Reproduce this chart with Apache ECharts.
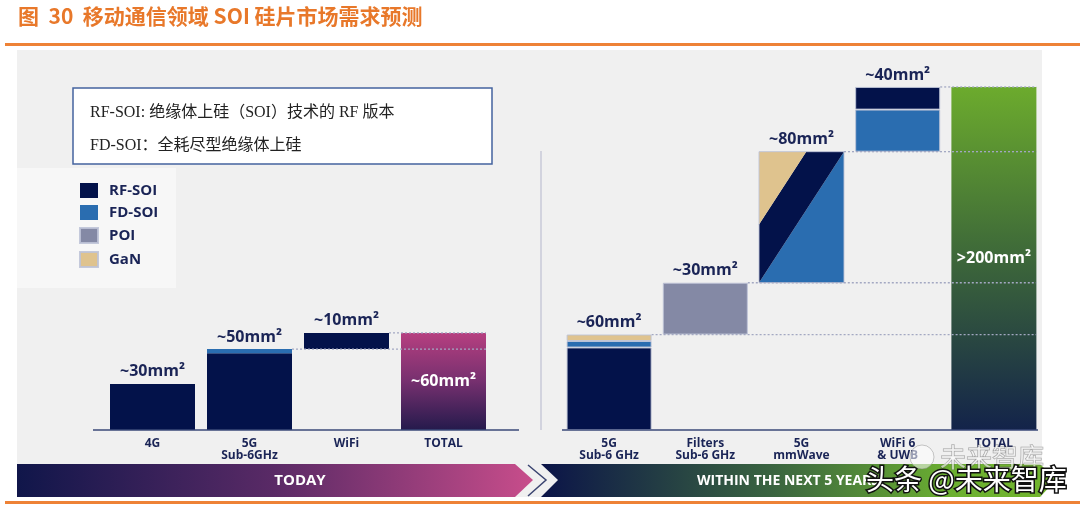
<!DOCTYPE html>
<html>
<head>
<meta charset="utf-8">
<script src="https://cdn.jsdelivr.net/npm/echarts@6/dist/echarts.min.js"></script>
<style>
html,body{margin:0;padding:0;background:#fff;}
#chart{width:1080px;height:506px;}
</style>
</head>
<body>
<div id="chart"></div>
<script>
// ---------- DATA ----------
const legendNames = ['RF-SOI', 'FD-SOI', 'POI', 'GaN'];

// TODAY panel (waterfall)
const leftCats = ['4G', '5G\nSub-6GHz', 'WiFi', 'TOTAL'];
const leftBase = [0, 0, 50, 0];
const leftRF = [28.5, 47.5, 10, '-'];
const leftFD = ['-', 2.5, '-', '-'];
const leftTotal = ['-', '-', '-', 60];
const leftLabels = ['~30mm²', '~50mm²', '~10mm²', '~60mm²'];
const leftConnectors = [[1, 3, 50], [2, 3, 60]];

// WITHIN THE NEXT 5 YEARS panel (waterfall)
const rightCats = ['5G\nSub-6 GHz', 'Filters\nSub-6 GHz', '5G\nmmWave', 'WiFi 6\n& UWB', 'TOTAL'];
const rightBase = [0, 59, 91, 172, 0];
const rightRFLow = [51, '-', '-', '-', '-'];
const rightFD = [4, '-', '-', 26, '-'];
const rightGaN = [4, '-', '-', '-', '-'];
const rightPOI = ['-', 32, '-', '-', '-'];
const rightRFHigh = ['-', '-', '-', 14, '-'];
const rightTotal = ['-', '-', '-', '-', 212];
// mmWave bar: shares drawn as diagonal bands [GaN, RF-SOI, FD-SOI]
const mmWaveIndex = 2;
const mmWaveShares = [12.5, 28, 40.5];
const rightLabels = ['~60mm²', '~30mm²', '~80mm²', '~40mm²', '>200mm²'];
const rightConnectors = [[0, 4, 59], [1, 4, 91], [2, 4, 172], [3, 4, 212]];

// ---------- STYLE ----------
const C = { RF: '#03124a', FD: '#2a6db0', POI: '#8489a5', GaN: '#dfc38e' };
const NAVY = '#1a2456';
const BAR_W = 85;
const FONT = '"Open Sans", "Noto Sans", sans-serif';
const CJK = '"Noto Sans CJK SC", sans-serif';

const chart = echarts.init(document.getElementById('chart'));

function sumStack(arrs, i) {
  let s = 0;
  arrs.forEach(a => { const v = a[i]; if (v !== '-' && v != null) s += v; });
  return s;
}
const leftTops = leftCats.map((c, i) => sumStack([leftBase, leftRF, leftFD, leftTotal], i));
const rightTops = rightCats.map((c, i) => {
  let s = sumStack([rightBase, rightRFLow, rightFD, rightGaN, rightPOI, rightRFHigh, rightTotal], i);
  if (i === mmWaveIndex) s += mmWaveShares[0] + mmWaveShares[1] + mmWaveShares[2];
  return s;
});

function stackBar(name, data, color, axisIdx, border) {
  return {
    type: 'bar', name: name, stack: 's' + axisIdx, data: data,
    xAxisIndex: axisIdx, yAxisIndex: axisIdx, barWidth: BAR_W,
    itemStyle: { color: color, borderColor: border ? 'rgba(190,195,215,0.9)' : color, borderWidth: border ? 1 : 0 },
    emphasis: { disabled: true }, z: 3
  };
}
function baseBar(data, axisIdx) {
  return {
    type: 'bar', name: 'base', stack: 's' + axisIdx, data: data,
    xAxisIndex: axisIdx, yAxisIndex: axisIdx, barWidth: BAR_W,
    itemStyle: { color: 'rgba(0,0,0,0)' }, emphasis: { disabled: true }, silent: true
  };
}
function labelSeries(tops, labels, axisIdx, skipIdx) {
  return {
    type: 'custom', xAxisIndex: axisIdx, yAxisIndex: axisIdx, silent: true, z: 6,
    data: tops.map((t, i) => [i, t, i]).filter(d => d[0] !== skipIdx),
    renderItem: function (params, api) {
      const p = api.coord([api.value(0), api.value(1)]);
      return {
        type: 'text', x: p[0], y: p[1] - 4,
        style: { text: labels[api.value(2)], fill: NAVY, font: 'bold 16px ' + FONT, textAlign: 'center', textVerticalAlign: 'bottom' }
      };
    }
  };
}
function connectorSeries(conns, axisIdx) {
  return {
    type: 'custom', xAxisIndex: axisIdx, yAxisIndex: axisIdx, silent: true, z: 5,
    data: conns,
    renderItem: function (params, api) {
      const a = api.coord([api.value(0), api.value(2)]);
      const b = api.coord([api.value(1), api.value(2)]);
      return {
        type: 'line',
        shape: { x1: a[0] + BAR_W / 2, y1: a[1], x2: b[0] + BAR_W / 2, y2: b[1] },
        style: { stroke: '#a3a8c2', lineWidth: 1.3, lineDash: [2, 2] }
      };
    }
  };
}
function totalBar(data, axisIdx, grad, labelText) {
  return {
    type: 'bar', name: 'TOTAL', stack: 's' + axisIdx, data: data,
    xAxisIndex: axisIdx, yAxisIndex: axisIdx, barWidth: BAR_W,
    itemStyle: { color: new echarts.graphic.LinearGradient(0, 0, 0, 1, grad) },
    label: { show: true, position: 'inside', formatter: labelText, color: '#fff', fontFamily: FONT, fontWeight: 'bold', fontSize: 16 },
    emphasis: { disabled: true }, z: 3
  };
}

const xAxisCommon = {
  type: 'category',
  axisLine: { show: false }, axisTick: { show: false }, splitLine: { show: false },
  axisLabel: { color: NAVY, fontFamily: FONT, fontWeight: 'bold', fontSize: 12, lineHeight: 12, margin: 8, interval: 0 }
};
const yAxisCommon = { type: 'value', min: 0, max: 220, show: false, splitLine: { show: false } };

const option = {
  animation: false,
  backgroundColor: '#ffffff',
  grid: [
    { left: 104, width: 388, top: 74, bottom: 76 },
    { left: 561, width: 481, top: 74, bottom: 76 }
  ],
  xAxis: [
    Object.assign({ gridIndex: 0, data: leftCats }, xAxisCommon),
    Object.assign({ gridIndex: 1, data: rightCats }, xAxisCommon)
  ],
  yAxis: [
    Object.assign({ gridIndex: 0 }, yAxisCommon),
    Object.assign({ gridIndex: 1 }, yAxisCommon)
  ],
  legend: {
    data: legendNames, orient: 'vertical', left: 79, top: 183, padding: 0,
    itemWidth: 18, itemHeight: 15, itemGap: 7, icon: 'rect', selectedMode: false,
    textStyle: { color: NAVY, fontFamily: FONT, fontWeight: 'bold', fontSize: 15, lineHeight: 15, padding: [0, 0, 0, 6] }
  },
  series: [
    // left panel
    baseBar(leftBase, 0),
    stackBar('RF-SOI', leftRF, C.RF, 0, false),
    stackBar('FD-SOI', leftFD, C.FD, 0, false),
    totalBar(leftTotal, 0, [
      { offset: 0, color: '#b63f80' }, { offset: 0.5, color: '#76306f' }, { offset: 1, color: '#251a4c' }
    ], leftLabels[3]),
    connectorSeries(leftConnectors, 0),
    labelSeries(leftTops, leftLabels, 0, 3),
    // right panel
    baseBar(rightBase, 1),
    stackBar('RF-SOI', rightRFLow, C.RF, 1, true),
    stackBar('FD-SOI', rightFD, C.FD, 1, true),
    stackBar('GaN', rightGaN, C.GaN, 1, true),
    stackBar('POI', rightPOI, C.POI, 1, true),
    stackBar('RF-SOI', rightRFHigh, C.RF, 1, true),
    totalBar(rightTotal, 1, [
      { offset: 0, color: '#6cab2d' }, { offset: 0.45, color: '#416e38' }, { offset: 1, color: '#13234a' }
    ], rightLabels[4]),
    {
      type: 'custom', name: 'mmWave', xAxisIndex: 1, yAxisIndex: 1, z: 3, silent: true,
      data: [[mmWaveIndex, rightBase[mmWaveIndex], mmWaveShares[0], mmWaveShares[1], mmWaveShares[2]]],
      renderItem: function (params, api) {
        const cat = api.value(0), base = api.value(1);
        const g = api.value(2), r = api.value(3), f = api.value(4);
        const pB = api.coord([cat, base]);
        const pT = api.coord([cat, base + g + r + f]);
        const xL = pB[0] - BAR_W / 2, xR = pB[0] + BAR_W / 2, yT = pT[1], yB = pB[1];
        const w = xR - xL, h = yB - yT;
        const k = Math.sqrt(g / (g + r));
        return {
          type: 'group',
          children: [
            { type: 'polygon', shape: { points: [[xR, yT], [xR, yB], [xL, yB]] }, style: { fill: C.FD } },
            { type: 'polygon', shape: { points: [[xL + k * w, yT], [xR, yT], [xL, yB], [xL, yT + k * h]] }, style: { fill: C.RF } },
            { type: 'polygon', shape: { points: [[xL, yT], [xL + k * w, yT], [xL, yT + k * h]] }, style: { fill: C.GaN } },
            { type: 'rect', shape: { x: xL, y: yT, width: w, height: h }, style: { fill: 'none', stroke: 'rgba(190,195,215,0.9)', lineWidth: 1 } }
          ]
        };
      }
    },
    connectorSeries(rightConnectors, 1),
    labelSeries(rightTops, rightLabels, 1, 4)
  ],
  graphic: [
    // title
    { type: 'text', left: 18, top: 6, z: 10, style: { text: '图  30  移动通信领域 SOI 硅片市场需求预测', fill: '#e8782a', font: 'bold 21px ' + CJK } },
    { type: 'rect', z: 10, shape: { x: 5, y: 43, width: 1075, height: 3 }, style: { fill: '#ee8236' } },
    { type: 'rect', z: 10, shape: { x: 5, y: 501, width: 1075, height: 3 }, style: { fill: '#ee8236' } },
    // panel backgrounds
    { type: 'rect', z: -10, shape: { x: 17, y: 50, width: 1025, height: 447 }, style: { fill: '#f0f0f0' } },
    { type: 'rect', z: -9, shape: { x: 17, y: 168, width: 159, height: 120 }, style: { fill: '#f7f7f7' } },
    // note box
    { type: 'rect', z: 1, shape: { x: 73, y: 88, width: 419, height: 76 }, style: { fill: '#ffffff', stroke: '#44639f', lineWidth: 1.5 } },
    { type: 'text', z: 2, x: 90, y: 113, style: { text: 'RF-SOI: 绝缘体上硅（SOI）技术的 RF 版本', fill: '#222', font: '16px "Liberation Serif", "Noto Sans CJK SC", serif', textVerticalAlign: 'middle' } },
    { type: 'text', z: 2, x: 90, y: 146, style: { text: 'FD-SOI：全耗尽型绝缘体上硅', fill: '#222', font: '16px "Liberation Serif", "Noto Sans CJK SC", serif', textVerticalAlign: 'middle' } },
    // separator
    { type: 'line', z: 1, shape: { x1: 541, y1: 151, x2: 541, y2: 430 }, style: { stroke: '#c8cad9', lineWidth: 1.5 } },
    // axis lines
    { type: 'line', z: 4, shape: { x1: 93, y1: 430, x2: 519, y2: 430 }, style: { stroke: '#3b4a78', lineWidth: 1.5 } },
    { type: 'line', z: 4, shape: { x1: 562, y1: 430, x2: 1038, y2: 430 }, style: { stroke: '#3b4a78', lineWidth: 1.5 } },
    // banners
    {
      type: 'polygon', z: 1,
      shape: { points: [[17, 464], [515, 464], [533, 480], [515, 497], [17, 497]] },
      style: { fill: new echarts.graphic.LinearGradient(0, 0, 1, 0, [{ offset: 0, color: '#10164a' }, { offset: 0.5, color: '#5a2a66' }, { offset: 1, color: '#c84d8b' }]) }
    },
    { type: 'polyline', z: 1, shape: { points: [[528, 465], [546, 480], [528, 496]] }, style: { stroke: '#3a4470', lineWidth: 1.5, fill: 'none' } },
    {
      type: 'polygon', z: 1,
      shape: { points: [[541, 464], [1040, 464], [1056, 480], [1040, 497], [541, 497], [558, 480]] },
      style: { fill: new echarts.graphic.LinearGradient(0, 0, 1, 0, [{ offset: 0, color: '#0b1448' }, { offset: 0.45, color: '#3a6440' }, { offset: 0.8, color: '#6cb030' }, { offset: 1, color: '#72b52e' }]) }
    },
    { type: 'text', z: 2, x: 300, y: 481, style: { text: 'TODAY', fill: '#ffffff', font: 'bold 15px ' + FONT, textAlign: 'center', textVerticalAlign: 'middle' } },
    { type: 'text', z: 2, x: 697, y: 481, style: { text: 'WITHIN THE NEXT 5 YEARS', fill: '#ffffff', font: 'bold 14px ' + FONT, textAlign: 'left', textVerticalAlign: 'middle' } },
    // watermark
    { type: 'circle', z: 50, shape: { cx: 922, cy: 457, r: 12 }, style: { fill: 'rgba(255,255,255,0.55)', stroke: 'rgba(120,120,120,0.4)', lineWidth: 1 } },
    { type: 'text', z: 50, x: 940, y: 457, style: { text: '未来智库', fill: 'rgba(255,255,255,0.6)', stroke: 'rgba(90,90,90,0.55)', lineWidth: 1, font: '26px ' + CJK, textVerticalAlign: 'middle' } },
    { type: 'text', z: 51, x: 866, y: 479, style: { text: '头条 @未来智库', fill: '#ffffff', stroke: '#111111', lineWidth: 3, font: '28px ' + CJK, textVerticalAlign: 'middle' } }
  ]
};
chart.setOption(option);
</script>
</body>
</html>
